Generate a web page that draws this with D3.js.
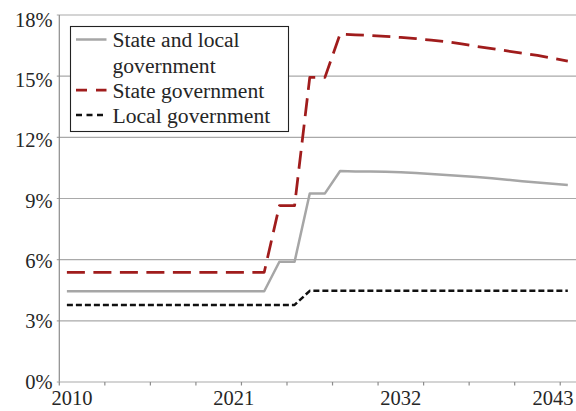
<!DOCTYPE html>
<html lang="en">
<head>
    <meta charset="UTF-8">
    <title>Government shares</title>
    <script src="https://cdn.jsdelivr.net/npm/d3@7/dist/d3.min.js"></script>
    <style>
        body { margin: 0; background: #fff; }
        text { font-family: "Liberation Serif", "Times New Roman", serif; fill: #262626; }
    </style>
</head>
<body>
<script>
    // Data (percent)
    const years = d3.range(2010, 2044);
    const yearLabels = [2010, 2021, 2032, 2043];
    const yTicks = [0, 3, 6, 9, 12, 15, 18];

    const stateAndLocal = [
        4.45, 4.45, 4.45, 4.45, 4.45, 4.45, 4.45, 4.45, 4.45, 4.45, 4.45, 4.45, 4.45, 4.45,
        5.9, 5.9, 9.25, 9.25,
        10.35, 10.33, 10.32, 10.31, 10.29, 10.25, 10.2, 10.15, 10.1, 10.05, 9.99, 9.92, 9.85, 9.79, 9.72, 9.66
    ];
    const stateGov = [
        5.38, 5.38, 5.38, 5.38, 5.38, 5.38, 5.38, 5.38, 5.38, 5.38, 5.38, 5.38, 5.38, 5.38,
        8.65, 8.65, 14.94, 14.94,
        17.07, 17.03, 17.0, 16.95, 16.9, 16.84, 16.77, 16.69, 16.58, 16.46, 16.35, 16.24, 16.13, 16.02, 15.88, 15.74
    ];
    const localGov = [
        3.78, 3.78, 3.78, 3.78, 3.78, 3.78, 3.78, 3.78, 3.78, 3.78, 3.78, 3.78, 3.78, 3.78, 3.78, 3.78,
        4.47, 4.47, 4.47, 4.47, 4.47, 4.47, 4.47, 4.47, 4.47, 4.47, 4.47, 4.47, 4.47, 4.47, 4.47, 4.47, 4.47, 4.47
    ];

    const series = [
        { name: ["State and local", "government"], values: stateAndLocal, color: "#a6a6a6", width: 2.5, dash: null, legendDash: null },
        { name: ["State government"], values: stateGov, color: "#a01c1c", width: 2.75, dash: "18,8.5", legendDash: "11,9" },
        { name: ["Local government"], values: localGov, color: "#111", width: 2.5, dash: "6,3", legendDash: "6,4.5" }
    ];

    const W = 576, H = 411;
    const plotLeft = 59.3, plotRight = 575.4, plotTop = 15, plotBottom = 382;

    const svg = d3.select("body").append("svg")
        .attr("width", W)
        .attr("height", H);

    const x = d3.scaleBand().domain(years).range([plotLeft, plotRight]).padding(0);
    const bw = x.bandwidth();
    const y = d3.scaleLinear().domain([0, 18]).range([plotBottom, plotTop]);
    // tick labels sit on a slightly tighter spacing than the gridlines in the original
    const yLab = d3.scaleLinear().domain([0, 18]).range([381.7, 19.7]);

    // Gridlines
    svg.append("g").selectAll("line")
        .data(yTicks.filter(d => d > 0))
        .enter().append("line")
        .attr("x1", plotLeft - 2.5).attr("x2", W)
        .attr("y1", d => y(d)).attr("y2", d => y(d))
        .attr("stroke", "#a9a9a9")
        .attr("stroke-width", 1.2);

    // Y axis line + labels
    svg.append("line")
        .attr("x1", plotLeft).attr("x2", plotLeft)
        .attr("y1", plotTop).attr("y2", plotBottom)
        .attr("stroke", "#8c8c8c").attr("stroke-width", 1.2);

    svg.append("g").selectAll("text")
        .data(yTicks)
        .enter().append("text")
        .attr("x", 52.5)
        .attr("y", d => yLab(d))
        .attr("dy", "0.34em")
        .attr("text-anchor", "end")
        .style("font-size", "20.5px")
        .text(d => d + "%");

    // X axis line, ticks every 3 years, labels every 11 years
    svg.append("line")
        .attr("x1", plotLeft - 2.5).attr("x2", W)
        .attr("y1", plotBottom).attr("y2", plotBottom)
        .attr("stroke", "#a9a9a9").attr("stroke-width", 1.2);

    svg.append("g").selectAll("line")
        .data(years.filter((d, i) => i % 3 === 0))
        .enter().append("line")
        .attr("x1", d => x(d)).attr("x2", d => x(d))
        .attr("y1", plotBottom).attr("y2", plotBottom + 3.5)
        .attr("stroke", "#8c8c8c").attr("stroke-width", 1.2);

    svg.append("g").selectAll("text")
        .data(yearLabels)
        .enter().append("text")
        .attr("x", d => Math.max(72, Math.min(553, x(d) + bw / 2)))
        .attr("y", 405)
        .attr("text-anchor", "middle")
        .style("font-size", "20.5px")
        .text(d => d);

    // Lines
    const line = d3.line()
        .x((d, i) => x(years[i]) + bw / 2)
        .y(d => y(d));

    series.forEach(s => {
        svg.append("path")
            .datum(s.values)
            .attr("d", line)
            .attr("fill", "none")
            .attr("stroke", s.color)
            .attr("stroke-width", s.width)
            .attr("stroke-dasharray", s.dash)
            .attr("stroke-linejoin", "round");
    });

    // Legend
    const legend = svg.append("g");
    legend.append("rect")
        .attr("x", 70.5).attr("y", 26.5)
        .attr("width", 218).attr("height", 105)
        .attr("fill", "#fff")
        .attr("stroke", "#222")
        .attr("stroke-width", 1.1);

    const rowY = [39.5, 90, 115];
    series.forEach((s, i) => {
        legend.append("line")
            .attr("x1", 76).attr("x2", 106.5)
            .attr("y1", rowY[i]).attr("y2", rowY[i])
            .attr("stroke", s.color)
            .attr("stroke-width", s.width)
            .attr("stroke-dasharray", s.legendDash);

        const t = legend.append("text")
            .attr("x", 112.5)
            .attr("y", rowY[i] + 7.5)
            .style("font-size", "21.6px");
        s.name.forEach((part, j) => {
            t.append("tspan")
                .attr("x", 112.5)
                .attr("dy", j === 0 ? 0 : 25.5)
                .text(part);
        });
    });
</script>
</body>
</html>
